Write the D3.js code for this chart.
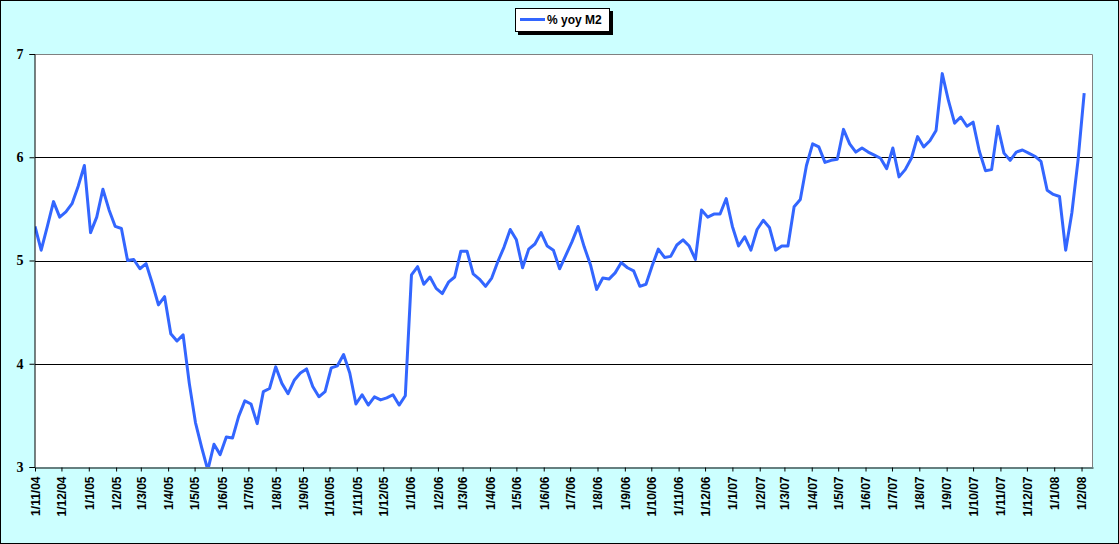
<!DOCTYPE html>
<meta charset="utf-8">
<style>
    body {
        margin: 0;
        background: #fff;
    }

    svg text {
        font-family: "Liberation Sans", Arial, sans-serif;
        font-weight: bold;
        fill: #000;
    }

    .y-axis text {
        font-family: "Liberation Serif", "Times New Roman", serif;
    }
</style>

<body>
    <svg width="1119" height="544"></svg>

    <script src="https://d3js.org/d3.v7.min.js"></script>
    <script>
        // série hebdomadaire (lundi), première semaine le 1/11/04
        const firstWeek = "2004-11-01";
        const seriesName = "% yoy M2";
        const m2Values = [
            5.33, 5.10, 5.33, 5.57, 5.42, 5.47, 5.55, 5.72, 5.92, 5.27,
            5.42, 5.69, 5.49, 5.33, 5.31, 5.00, 5.01, 4.92, 4.97, 4.78,
            4.57, 4.65, 4.29, 4.22, 4.28, 3.81, 3.43, 3.19, 2.97, 3.22,
            3.12, 3.29, 3.28, 3.49, 3.64, 3.61, 3.42, 3.73, 3.76, 3.97,
            3.81, 3.71, 3.84, 3.91, 3.95, 3.78, 3.68, 3.73, 3.96, 3.98,
            4.09, 3.91, 3.61, 3.70, 3.60, 3.68, 3.65, 3.67, 3.70, 3.60,
            3.69, 4.86, 4.94, 4.77, 4.84, 4.73, 4.68, 4.79, 4.84, 5.09,
            5.09, 4.87, 4.82, 4.75, 4.83, 4.99, 5.13, 5.30, 5.20, 4.93,
            5.11, 5.16, 5.27, 5.14, 5.10, 4.92, 5.05, 5.18, 5.33, 5.13,
            4.96, 4.72, 4.83, 4.82, 4.88, 4.98, 4.93, 4.90, 4.75, 4.77,
            4.95, 5.11, 5.03, 5.04, 5.15, 5.20, 5.14, 5.01, 5.49, 5.42,
            5.45, 5.45, 5.60, 5.33, 5.14, 5.23, 5.10, 5.30, 5.39, 5.32,
            5.10, 5.14, 5.14, 5.52, 5.59, 5.92, 6.13, 6.10, 5.95, 5.97,
            5.98, 6.27, 6.13, 6.05, 6.09, 6.05, 6.02, 5.99, 5.89, 6.09,
            5.81, 5.88, 5.99, 6.20, 6.10, 6.16, 6.26, 6.81, 6.55, 6.33,
            6.39, 6.30, 6.34, 6.06, 5.87, 5.88, 6.30, 6.04, 5.97, 6.05,
            6.07, 6.04, 6.01, 5.96, 5.68, 5.64, 5.62, 5.10, 5.46, 5.97,
            6.62
        ];
        const yTicks = [3, 4, 5, 6, 7];
        const gridValues = [4, 5, 6];
        const axisStart = "2004-11-01";
        const axisEnd = "2008-02-14";

        const svg = d3.select("svg");
        const width = +svg.attr("width");
        const height = +svg.attr("height");
        const plot = { left: 35, top: 54, right: 1093, bottom: 467 };

        const parse = d3.timeParse("%Y-%m-%d");
        const start = parse(firstWeek);
        const data = m2Values.map((v, i) => ({ date: d3.timeWeek.offset(start, i), value: v }));

        // fond du graphique
        svg.append("rect")
            .attr("x", 0.5).attr("y", 0.5)
            .attr("width", width - 1).attr("height", height - 1)
            .attr("fill", "#CCFFFF")
            .attr("stroke", "#000");

        svg.append("rect")
            .attr("x", plot.left).attr("y", plot.top)
            .attr("width", plot.right - plot.left)
            .attr("height", plot.bottom - plot.top)
            .attr("fill", "#fff");

        const x = d3.scaleTime()
            .domain([parse(axisStart), parse(axisEnd)])
            .range([plot.left, plot.right]);

        const y = d3.scaleLinear()
            .domain([3, 7])
            .range([plot.bottom, plot.top]);

        // quadrillage
        svg.append("g")
            .selectAll("line")
            .data(gridValues)
            .join("line")
            .attr("x1", plot.left).attr("x2", plot.right)
            .attr("y1", d => Math.round(y(d)) + 0.5)
            .attr("y2", d => Math.round(y(d)) + 0.5)
            .attr("stroke", "#000");

        // bordure grise de la zone de tracé
        svg.append("path")
            .attr("d", `M${plot.left},${plot.top + 0.5}H${plot.right - 0.5}V${plot.bottom}`)
            .attr("fill", "none")
            .attr("stroke", "#808080");

        svg.append("clipPath")
            .attr("id", "plotClip")
            .append("rect")
            .attr("x", plot.left).attr("y", plot.top)
            .attr("width", plot.right - plot.left)
            .attr("height", plot.bottom - plot.top);

        const line = d3.line()
            .x(d => x(d.date))
            .y(d => y(d.value));

        svg.append("path")
            .datum(data)
            .attr("clip-path", "url(#plotClip)")
            .attr("fill", "none")
            .attr("stroke", "#3366FF")
            .attr("stroke-width", 3)
            .attr("stroke-linejoin", "round")
            .attr("d", line);

        // axe Y
        const yAxis = svg.append("g")
            .attr("class", "y-axis")
            .attr("transform", `translate(${plot.left - 0.5},0)`)
            .call(d3.axisLeft(y).tickValues(yTicks).tickSize(5).tickPadding(6).tickFormat(d3.format("d")));
        yAxis.select(".domain").attr("stroke", "#000");
        yAxis.selectAll("text").style("font-size", "14px");

        // axe X : un repère par mois
        const monthTicks = d3.timeMonth.range(parse(axisStart), d3.timeDay.offset(parse(axisEnd), 1));
        const fmt = d3.timeFormat("%-d/%-m/%y");

        const xAxis = svg.append("g")
            .attr("transform", `translate(0,${plot.bottom + 0.5})`)
            .call(d3.axisBottom(x).tickValues(monthTicks).tickSize(4).tickSizeOuter(0).tickFormat(fmt));
        xAxis.select(".domain").attr("stroke", "#000");
        xAxis.selectAll("text")
            .style("font-size", "12px")
            .attr("text-anchor", "end")
            .attr("transform", "rotate(-90)")
            .attr("x", -9)
            .attr("y", 0)
            .attr("dy", "0.36em");

        // légende
        const legend = svg.append("g").attr("transform", "translate(515,8)");
        legend.append("rect")
            .attr("x", 3).attr("y", 3)
            .attr("width", 95).attr("height", 24)
            .attr("fill", "#000");
        legend.append("rect")
            .attr("x", 0.5).attr("y", 0.5)
            .attr("width", 94).attr("height", 23)
            .attr("fill", "#fff")
            .attr("stroke", "#000");
        legend.append("line")
            .attr("x1", 5).attr("x2", 30)
            .attr("y1", 11.5).attr("y2", 11.5)
            .attr("stroke", "#3366FF")
            .attr("stroke-width", 3);
        legend.append("text")
            .attr("x", 32).attr("y", 16)
            .style("font-size", "12px")
            .text(seriesName);
    </script>
</body>
